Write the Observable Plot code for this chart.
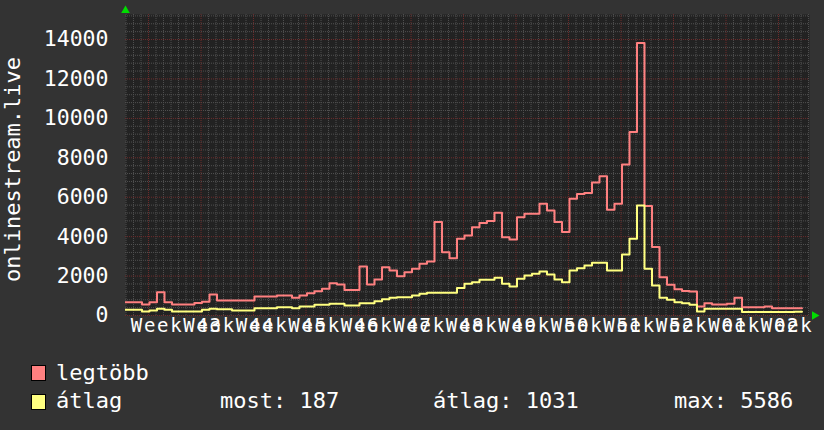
<!DOCTYPE html>
<html>
<head>
<meta charset="utf-8">
<script src="https://cdn.jsdelivr.net/npm/d3@7"></script>
<script src="https://cdn.jsdelivr.net/npm/@observablehq/plot@0.6"></script>
<style>
  html, body { margin: 0; padding: 0; background: #333333; }
  #chart { width: 824px; height: 430px; position: relative; overflow: hidden; background: #333333; }
  #chart svg { display: block; }
  .legend { position: relative; width: 824px; height: 78px; font-family: "DejaVu Sans Mono", monospace; font-size: 22px; line-height: 22px; color: #ffffff; }
  .legend div { position: absolute; white-space: pre; }
  .legend .sw { width: 15px; height: 16px; border: 1px solid #000; box-sizing: border-box; }
</style>
</head>
<body>
<div id="chart"></div>
<script>
// ---- data (daily values; day 0 = Monday of week 43) ----
const firstDay = -4;
const legtobb = [
  675, 675, 675, 560, 675, 1180, 675, 560, 560, 560, 640,
  700, 1066, 760, 760, 760, 760, 760, 965, 965, 965, 1015,
  1015, 900, 1015, 1130, 1235, 1355, 1640, 1575, 1300, 1300, 2490,
  1575, 1830, 2450, 2280, 1990, 2200, 2370, 2620, 2740, 4740, 3215,
  2910, 3890, 4060, 4480, 4690, 4790, 5210, 3975, 3860, 4990, 5160,
  5160, 5670, 5330, 4740, 4230, 5920, 6160, 6210, 6750, 7060, 5365,
  5670, 7665, 9305, 13820, 5550, 3470, 1945, 1560, 1330, 1240, 1220,
  457, 625, 560, 560, 590, 900, 420, 420, 420, 457, 370,
  370, 370, 370
];
const atlag = [
  290, 290, 290, 200, 260, 340, 290, 200, 200, 200, 200,
  290, 340, 320, 320, 250, 250, 250, 370, 370, 370, 420,
  420, 370, 457, 457, 540, 540, 590, 590, 508, 508, 625,
  625, 725, 830, 900, 930, 930, 1015, 1100, 1150, 1150, 1150,
  1150, 1390, 1610, 1690, 1810, 1810, 1910, 1610, 1470, 1860, 2030,
  2115, 2230, 2080, 1830, 1690, 2285, 2400, 2540, 2675, 2675, 2285,
  2285, 3100, 3890, 5586, 2370, 1520, 900, 795, 675, 625, 540,
  200, 340, 340, 340, 340, 340, 175, 175, 175, 175, 175,
  175, 175, 187
];
const weekLabels = ["Week 43", "Week 44", "Week 45", "Week 46", "Week 47", "Week 48", "Week 49",
                    "Week 50", "Week 51", "Week 52", "Week 01", "Week 02", "Week 03"];
const yTicks = [0, 2000, 4000, 6000, 8000, 10000, 12000, 14000];
const yMinorStep = 400;
const yMajorStep = 2000;
const daysPerWeek = 7;
const seriesNames = ["legtöbb", "átlag"];
const seriesColors = ["#ff8080", "#ffff80"];
const statLabels = ["most: 187", "átlag: 1031", "max: 5586"];
const yTitle = "onlinestream.live";

// ---- scale settings ----
const xDomain = [-3.07, 88.13];
const yDomain = [0, 15270];
const stepOffset = 0.13;

function toSteps(values) {
  const pts = values.map((v, i) => ({x: firstDay + i + stepOffset, v}));
  pts.push({x: firstDay + values.length + stepOffset, v: values[values.length - 1]});
  return pts;
}
const redData = toSteps(legtobb);
const yelData = toSteps(atlag);

const minorX = d3.range(Math.ceil(xDomain[0]), Math.floor(xDomain[1]) + 1).filter(d => d % daysPerWeek !== 0);
const majorX = d3.range(0, Math.floor(xDomain[1]) + 1, daysPerWeek);
const minorY = d3.range(yMinorStep, yDomain[1], yMinorStep).filter(v => v % yMajorStep !== 0);
const majorY = yTicks;

const font = "DejaVu Sans Mono";

const plot = Plot.plot({
  width: 824,
  height: 352,
  marginLeft: 125,
  marginRight: 15,
  marginTop: 14,
  marginBottom: 37,
  style: {background: "#333333", fontFamily: font, color: "#ffffff", overflow: "hidden"},
  x: {domain: xDomain, axis: null},
  y: {domain: yDomain, axis: null},
  marks: [
    Plot.frame({fill: "#222222", stroke: null}),
    Plot.ruleX(minorX, {x: d => d, stroke: "#505050", strokeWidth: 1, strokeDasharray: "1,1"}),
    Plot.ruleY(minorY, {y: d => d, stroke: "#505050", strokeWidth: 1, strokeDasharray: "1,1"}),
    Plot.ruleX(majorX, {x: d => d, stroke: "#6e2c2c", strokeWidth: 1, strokeDasharray: "1,1"}),
    Plot.ruleY(majorY, {y: d => d, stroke: "#6e2c2c", strokeWidth: 1, strokeDasharray: "1,1"}),
    Plot.line(redData, {x: "x", y: "v", curve: "step-after", stroke: seriesColors[0], strokeWidth: 2, clip: true}),
    Plot.line(yelData, {x: "x", y: "v", curve: "step-after", stroke: seriesColors[1], strokeWidth: 2, clip: true}),
    Plot.text(yTicks, {frameAnchor: "left", y: d => d, text: d => String(d), dx: -17, textAnchor: "end",
      fontSize: 21.5, fill: "#ffffff", fontFamily: font}),
    Plot.text(weekLabels, {x: (d, i) => i * daysPerWeek + daysPerWeek / 2, frameAnchor: "bottom", text: d => d,
      dy: 16, dx: 2, fontSize: 19, fill: "#ffffff", fontFamily: font}),
    Plot.text([yTitle], {frameAnchor: "left", text: d => d, rotate: -90, dx: -113, dy: 4.5, textAnchor: "middle",
      fontSize: 22, fill: "#ffffff", fontFamily: font}),
    Plot.dot([xDomain[0]], {x: d => d, y: () => yDomain[1], dy: -4, symbol: "triangle", r: 3.2, fill: "#00dd00", stroke: null}),
    Plot.dot([yDomain[0]], {x: () => xDomain[1], y: d => d, dx: 5, rotate: 90, symbol: "triangle", r: 3.2, fill: "#00dd00", stroke: null})
  ]
});

d3.select(plot).selectAll("text")
  .filter(function () { return this.textContent.startsWith("Week"); })
  .style("letter-spacing", "1.7px");

const chart = document.getElementById("chart");
chart.appendChild(plot);

// ---- legend (HTML, below the SVG) ----
const legend = document.createElement("div");
legend.className = "legend";
const items = [
  {cls: "sw", left: 31, top: 13, bg: seriesColors[0]},
  {text: seriesNames[0], left: 56, top: 9.5},
  {cls: "sw", left: 31, top: 42, bg: seriesColors[1]},
  {text: seriesNames[1], left: 56, top: 37.5},
  {text: statLabels[0], left: 220, top: 37.5},
  {text: statLabels[1], left: 433, top: 37.5},
  {text: statLabels[2], left: 674, top: 37.5}
];
for (const it of items) {
  const el = document.createElement("div");
  if (it.cls) { el.className = it.cls; el.style.background = it.bg; }
  if (it.text) el.textContent = it.text;
  el.style.left = it.left + "px";
  el.style.top = it.top + "px";
  legend.appendChild(el);
}
chart.appendChild(legend);
</script>
</body>
</html>
